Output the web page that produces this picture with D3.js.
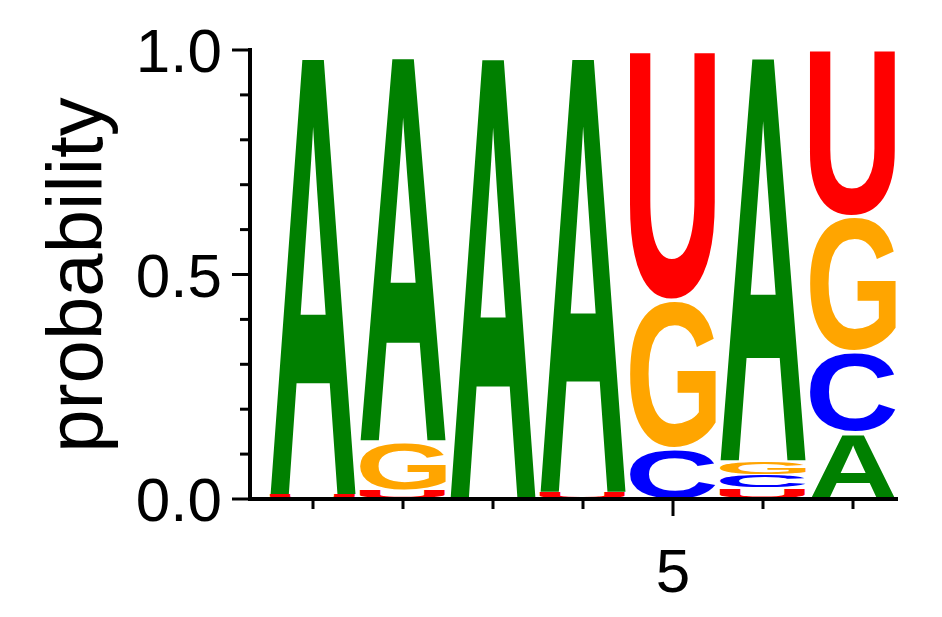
<!DOCTYPE html><html><head><script src="https://cdn.jsdelivr.net/npm/d3@7"></script>
<style>body{margin:0;background:#fff}</style></head><body><svg id="c" width="942" height="617"></svg>
<script>
const positions=[1,2,3,4,5,6,7];
const probA=[0.99,0.87,1.0,0.985,0,0.915,0.15];
const probC=[0,0,0,0,0.115,0.03,0.18];
const probG=[0,0.11,0,0,0.33,0.03,0.30];
const probU=[0.01,0.02,0,0.015,0.555,0.025,0.37];
const yTicks=[0,0.5,1.0];
const xTickLabels={5:"5"};
const colors={A:"#008000",C:"#0000ff",G:"#ffa500",U:"#ff0000"};
const svg=d3.select("#c");
const x=d3.scaleLinear().domain([0.5,7.5]).range([268,898]);
const y=d3.scaleLinear().domain([0,1]).range([499,50]);
const font="Liberation Sans, Arial, sans-serif";
const ctx=document.createElement("canvas").getContext("2d");
ctx.font="bold 100px 'Liberation Sans'";
const colW=86;
positions.forEach((p,i)=>{
  const items=[["A",probA[i]],["C",probC[i]],["G",probG[i]],["U",probU[i]]].filter(d=>d[1]>0).sort((a,b)=>a[1]-b[1]);
  let acc=0;
  items.forEach(([l,v])=>{
    const y0=y(acc),y1=y(acc+v);acc+=v;
    const h=y0-y1-Math.min(3,(y0-y1)*0.15);
    if(h<=0.5)return;
    const m=ctx.measureText(l);
    const bl=-m.actualBoundingBoxLeft, br=m.actualBoundingBoxRight;
    const asc=m.actualBoundingBoxAscent, desc=m.actualBoundingBoxDescent;
    const sx=colW/(br-bl), sy=h/(asc+desc);
    svg.append("text").text(l).attr("font-family",font).attr("font-weight","bold").attr("font-size",100).attr("fill",colors[l])
      .attr("transform",`translate(${x(p)-colW/2},${y0-0.5}) scale(${sx},${sy}) translate(${-bl},${-desc})`);
  });
});
svg.append("line").attr("x1",250).attr("x2",250).attr("y1",48).attr("y2",501).attr("stroke","#000").attr("stroke-width",4);
d3.range(0,11).forEach(k=>{
  const v=k/10, major=k%5===0;
  svg.append("line").attr("x1",major?232:240).attr("x2",250).attr("y1",y(v)).attr("y2",y(v)).attr("stroke","#000").attr("stroke-width",3);
});
yTicks.forEach(v=>svg.append("text").attr("x",222).attr("y",y(v)).attr("dy","0.36em").attr("text-anchor","end").attr("font-family",font).attr("font-size",62).text(v.toFixed(1)));
svg.append("line").attr("x1",248).attr("x2",898).attr("y1",499).attr("y2",499).attr("stroke","#000").attr("stroke-width",4);
positions.forEach(p=>{
  svg.append("line").attr("x1",x(p)).attr("x2",x(p)).attr("y1",499).attr("y2",p===5?516:509).attr("stroke","#000").attr("stroke-width",3);
  if(xTickLabels[p])svg.append("text").attr("x",x(p)).attr("y",592).attr("text-anchor","middle").attr("font-family",font).attr("font-size",62).text(xTickLabels[p]);
});
svg.append("text").attr("transform","translate(102,275) rotate(-90)").attr("text-anchor","middle").attr("font-family",font).attr("font-size",78).text("probability");
</script></body></html>
